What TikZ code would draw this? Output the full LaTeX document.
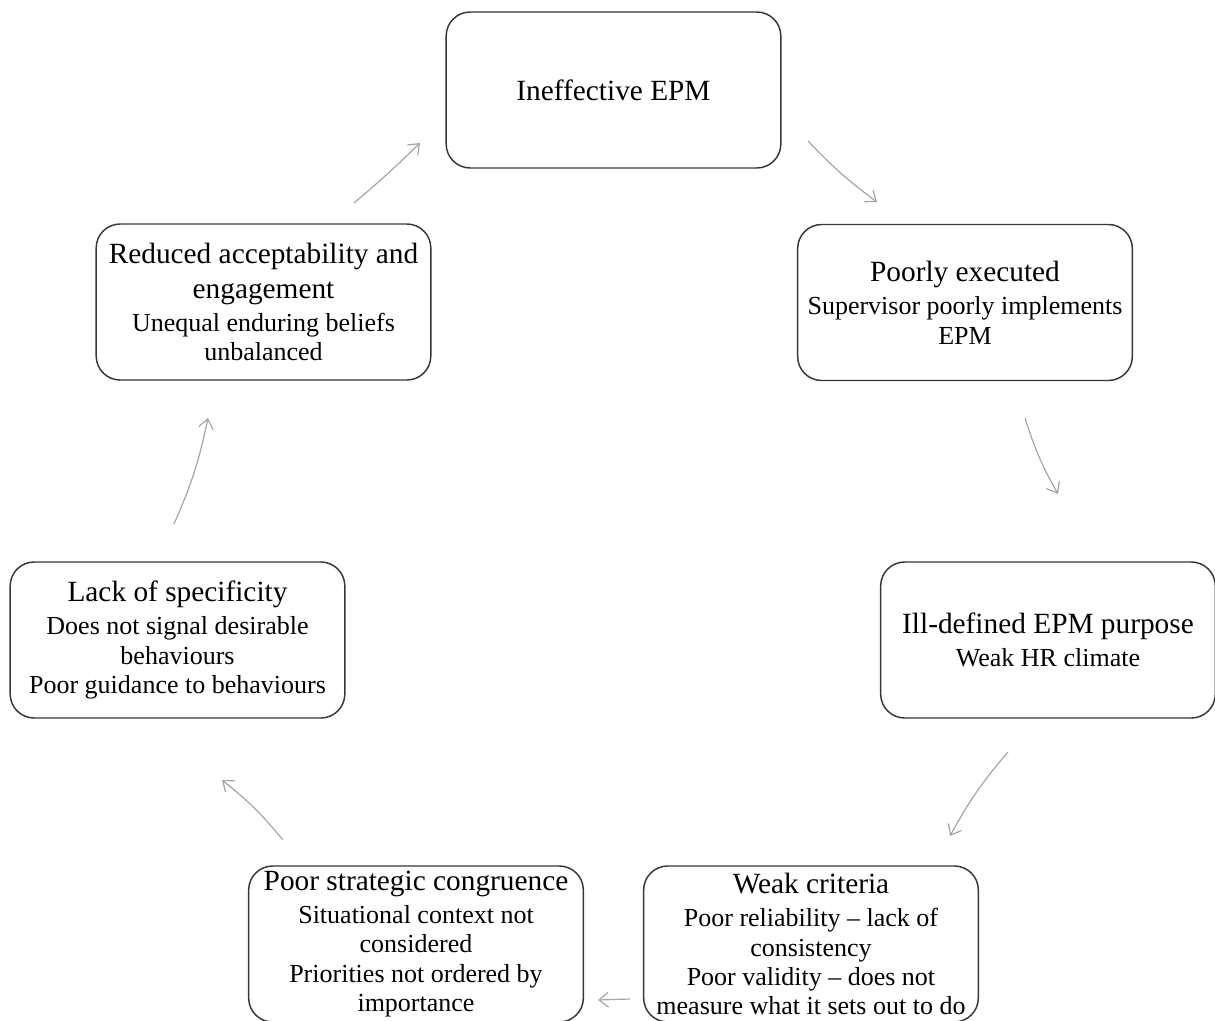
\documentclass[tikz,border=0pt]{standalone}
\usepackage{fontspec}
\setmainfont{Liberation Serif}
\usetikzlibrary{arrows.meta}
\definecolor{boxline}{RGB}{55,55,55}
\definecolor{arrowline}{RGB}{165,165,165}
\newcommand{\boxtitle}[1]{{\fontsize{22}{26}\selectfont #1}}

\begin{document}
\begin{tikzpicture}[x=0.75pt,y=0.75pt,yscale=-1,xscale=1,
  cyclebox/.style={draw=boxline, line width=1.1pt, rounded corners=18pt, minimum width=251pt, minimum height=117pt, align=center, inner sep=1pt, font=\fontsize{19.5}{22}\selectfont},
  cyclearrow/.style={draw=arrowline, line width=0.9pt, -{Straight Barb[length=7pt,width=11pt]}}]
\useasboundingbox (0,0) rectangle (1215,1021);

% Box Nodes
\node [cyclebox] (ineffective) at (613.5,90) {\boxtitle{Ineffective EPM}};
\node [cyclebox] (poorly) at (965,302.5) {\boxtitle{Poorly executed}\\[3pt] Supervisor poorly implements\\ EPM};
\node [cyclebox] (illdefined) at (1048,640) {\boxtitle{Ill-defined EPM purpose}\\[3pt] Weak HR climate};
\node [cyclebox] (weak) at (811,944) {\boxtitle{Weak criteria}\\[3pt] Poor reliability -- lack of\\ consistency\\ Poor validity -- does not\\ measure what it sets out to do};
\node [cyclebox] (congruence) at (416,944) {\boxtitle{Poor strategic congruence}\\[3pt] Situational context not\\ considered\\ Priorities not ordered by\\ importance};
\node [cyclebox] (specificity) at (177.5,640) {\boxtitle{Lack of specificity}\\[3pt] Does not signal desirable\\ behaviours\\ Poor guidance to behaviours};
\node [cyclebox] (reduced) at (263.5,302) {\boxtitle{Reduced acceptability and}\\[4pt] \boxtitle{engagement}\\[3pt] Unequal enduring beliefs\\ unbalanced};

% Arrow ends
\coordinate (a1s) at (354,203);  \coordinate (a1e) at (420,143);
\coordinate (a2s) at (808,141);  \coordinate (a2e) at (877,202);
\coordinate (a3s) at (1025,418); \coordinate (a3e) at (1058,494);
\coordinate (a4s) at (1008,752); \coordinate (a4e) at (950,836);
\coordinate (a5s) at (630,999);  \coordinate (a5e) at (598,1000);
\coordinate (a6s) at (283,840);  \coordinate (a6e) at (222,780);
\coordinate (a7s) at (174,524);  \coordinate (a7e) at (208,418);

% Curved Arrows
\draw [cyclearrow] (a1s) to [bend left=2] (a1e);
\draw [cyclearrow] (a2s) to [bend left=5] (a2e);
\draw [cyclearrow] (a3s) to [bend left=6] (a3e);
\draw [cyclearrow] (a4s) to [bend left=6] (a4e);
\draw [cyclearrow] (a5s) -- (a5e);
\draw [cyclearrow] (a6s) to [bend left=6] (a6e);
\draw [cyclearrow] (a7s) to [bend left=6] (a7e);

\end{tikzpicture}
\end{document}
